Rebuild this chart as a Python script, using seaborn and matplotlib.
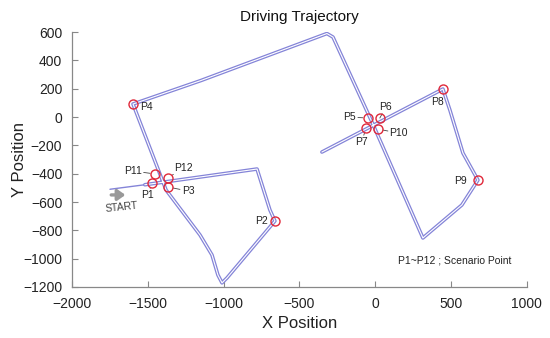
import matplotlib
matplotlib.use("Agg")
import matplotlib.pyplot as plt
import matplotlib.patheffects as pe
import seaborn as sns
import pandas as pd

# lead-in from the start mark to the first crossing
start_x = [-1750, -1520]
start_y = [-510, -478]

# driven loop (waypoints)
traj_x = [-1520, -780, -695, -662, -978, -1011, -1038, -1077, -1156, -1380, -1598,
          -1150, -319, -279, -22, 314, 571, 677, 578, 492, 446, -352]
traj_y = [-478, -367, -656, -734, -1136, -1171, -1115, -974, -833, -515, 92,
          258, 590, 565, -35, -854, -621, -445, -254, 50, 198, -247]

# scenario points and label offsets (pixels)
pt_names = ["P1", "P2", "P3", "P4", "P5", "P6", "P7", "P8", "P9", "P10", "P11", "P12"]
pt_x = [-1473, -662, -1367, -1598, -49, 30, -62, 446, 677, 17, -1453, -1367]
pt_y = [-466, -734, -494, 92, -7, -7, -77, 198, -445, -85, -402, -430]
lbl_dx = [-4, -13, 20, 13, -18, 6, -4, -5, -17, 21, -22, 15]
lbl_dy = [-12, 0, -4, -3, 1, 11, -14, -13, -1, -4, 3, 10]
leader = [True, False, True, False, True, True, True, False, False, True, True, True]

sns.set_style("ticks")
plt.rcParams['font.family'] = ['Liberation Sans', 'DejaVu Sans']

fig = plt.figure(figsize=(5.5, 3.38), dpi=100)
ax = fig.add_axes([0.131, 0.151, 0.827, 0.754])

line_col = "#8484d8"
road = [pe.Stroke(linewidth=2.6, foreground=line_col),
        pe.Stroke(linewidth=0.8, foreground="white")]

sns.lineplot(x=start_x, y=start_y, sort=False, estimator=None, ax=ax,
             color=line_col, linewidth=1.0)
sns.lineplot(x=traj_x, y=traj_y, sort=False, estimator=None, ax=ax,
             color=line_col, linewidth=2.6, path_effects=road)

pts = pd.DataFrame({"x": pt_x, "y": pt_y})
ax.plot(pts["x"], pts["y"], linestyle="none", marker="o", markersize=6.5,
        markerfacecolor="none", markeredgecolor="#e0283a", markeredgewidth=1.0, zorder=5)

for name, x, y, dx, dy, ld in zip(pt_names, pt_x, pt_y, lbl_dx, lbl_dy, leader):
    ax.annotate(name, (x, y), xytext=(dx, dy), textcoords="offset pixels",
                ha="center", va="center", fontsize=7.5, color="#222222",
                bbox=dict(boxstyle="square,pad=0.1", fc="none", ec="none"),
                arrowprops=dict(arrowstyle="-", color="#444444", lw=0.6,
                                shrinkA=0.5, shrinkB=3.6) if ld else None)

# START arrow
ax.annotate("", xy=(-1630, -550), xytext=(-1760, -550),
            arrowprops=dict(arrowstyle="-|>,head_length=0.45,head_width=0.32",
                            color="#999999", lw=2.4))
ax.text(-1670, -640, "START", fontsize=7.5, color="#444444", rotation=6,
        ha="center", va="center")

ax.text(150, -1015, "P1~P12 ; Scenario Point", fontsize=7.5, color="#222222",
        ha="left", va="center")

ax.set_xlim(-2000, 1000)
ax.set_ylim(-1200, 600)
ax.set_xticks(range(-2000, 1001, 500))
ax.set_yticks(range(-1200, 601, 200))
ax.tick_params(direction="in", length=4, width=0.8, colors="#888888",
               labelcolor="#222222", labelsize=10, pad=7)
for s in ["left", "bottom"]:
    ax.spines[s].set_color("#888888")
    ax.spines[s].set_linewidth(0.9)
sns.despine(ax=ax)

ax.set_title("Driving Trajectory", fontsize=11, color="#111111", pad=8)
ax.set_xlabel("X Position", fontsize=12, color="#222222", labelpad=4)
ax.set_ylabel("Y Position", fontsize=12, color="#222222")
ax.yaxis.set_label_coords(-0.1, 0.5)

fig.savefig("out.png", dpi=100)
